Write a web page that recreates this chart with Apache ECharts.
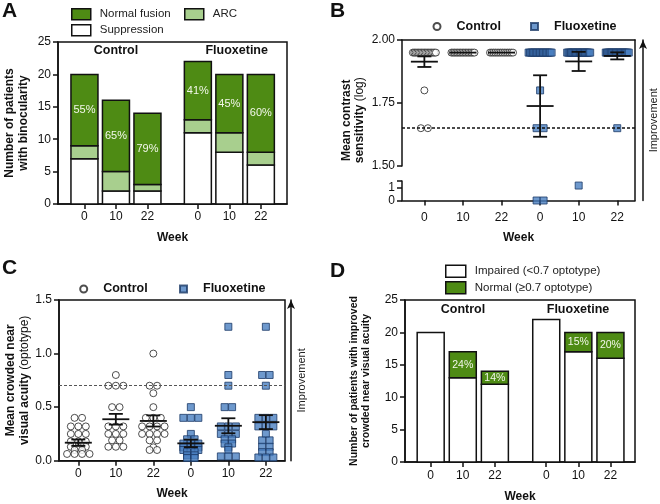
<!DOCTYPE html>
<html><head><meta charset="utf-8">
<script src="https://cdn.jsdelivr.net/npm/echarts@6/dist/echarts.min.js"></script>
<style>html,body{margin:0;padding:0;background:#fff}#c{width:660px;height:504px}</style>
</head><body><div id="c"></div>
<script>
// ---------------- data ----------------
const weeks = ['0', '10', '22'];
const groups = ['Control', 'Fluoxetine'];

// Panel A: binocularity (Control 0,10,22 | Fluoxetine 0,10,22)
const aSuppression = [7, 2, 2, 11, 8, 6];
const aARC = [2, 3, 1, 2, 3, 2];
const aNormal = [11, 11, 11, 9, 9, 12];
const aPct = ['55%', '65%', '79%', '41%', '45%', '60%'];

// Panel B: contrast sensitivity (log), one value per patient
const bControl = [
  [1.95,1.95,1.95,1.95,1.95,1.95,1.95,1.95,1.95,1.95,1.95,1.95,1.95,1.95,1.95,1.95,1.95,1.80,1.65,1.65],
  [1.95,1.95,1.95,1.95,1.95,1.95,1.95,1.95,1.95,1.95,1.95,1.95,1.95,1.95,1.95,1.95],
  [1.95,1.95,1.95,1.95,1.95,1.95,1.95,1.95,1.95,1.95,1.95,1.95,1.95,1.95]
];
const bFluox = [
  [1.95,1.95,1.95,1.95,1.95,1.95,1.95,1.95,1.95,1.95,1.95,1.95,1.95,1.95,1.95,1.95,1.95,1.80,1.65,1.65,0,0],
  [1.95,1.95,1.95,1.95,1.95,1.95,1.95,1.95,1.95,1.95,1.95,1.95,1.95,1.95,1.95,1.95,1.95,1.95,1.95,1.15],
  [1.95,1.95,1.95,1.95,1.95,1.95,1.95,1.95,1.95,1.95,1.95,1.95,1.95,1.95,1.95,1.95,1.95,1.95,1.95,1.65]
];
const bMean = [1.914, 1.95, 1.95, 1.738, 1.915, 1.937];
const bSem = [0.021, 0, 0, 0.122, 0.038, 0.014];
const bThreshold = 1.65;

// Panel C: crowded near visual acuity (optotype)
const cControl = [
  [0.40,0.40,0.32,0.32,0.32,0.25,0.25,0.25,0.18,0.18,0.18,0.13,0.13,0.13,0.10,0.10,0.063,0.063,0.063,0.063],
  [0.80,0.70,0.70,0.70,0.50,0.50,0.32,0.32,0.32,0.25,0.25,0.25,0.19,0.19,0.13,0.13,0.13],
  [1.00,0.70,0.70,0.63,0.50,0.40,0.40,0.40,0.32,0.32,0.32,0.32,0.25,0.25,0.25,0.25,0.19,0.19,0.125,0.10,0.10]
];
const cFluox = [
  [0.50,0.40,0.40,0.40,0.25,0.20,0.20,0.16,0.16,0.16,0.125,0.125,0.125,0.10,0.10,0.10,0.08,0.08,0.05,0.05,0.025,0.025],
  [1.25,0.80,0.70,0.50,0.50,0.32,0.32,0.32,0.25,0.25,0.25,0.20,0.20,0.16,0.16,0.125,0.10,0.04,0.04,0.04],
  [1.25,0.80,0.80,0.70,0.40,0.40,0.40,0.32,0.32,0.32,0.25,0.19,0.19,0.13,0.13,0.08,0.08,0.03,0.03,0.03]
];
const cMean = [0.168, 0.387, 0.371, 0.162, 0.326, 0.36];
const cSem = [0.03, 0.05, 0.052, 0.035, 0.07, 0.065];
const cThreshold = 0.7;

// Panel D: crowded near visual acuity categories
const dImpaired = [20, 13, 12, 22, 17, 16];
const dNormal = [0, 4, 2, 0, 3, 4];
const dPct = ['', '24%', '14%', '', '15%', '20%'];

// ---------------- layout & style ----------------
const FONT = "'Liberation Sans', Arial, Helvetica, sans-serif";
const INK = '#111';
const GREEN = '#4e8b14';
const LIGHT = '#a8cf8e';
const BLUE = '#4a7fc1';
const BLUE_EDGE = '#1c3a66';
const LABEL_INK = '#f2f7ea';

const posAD = [0, 1, 2, 3, 4, 5].map(i => (i % 3) + (i >= 3 ? 3.6 : 0));
const posBC = [0, 1, 2, 3, 4, 5];

const G = {
  A:  {left: 58,  top: 42,  width: 229, height: 162},
  Bu: {left: 402, top: 40,  width: 233, height: 126},
  Bl: {left: 402, top: 181, width: 233, height: 19.5},
  Bf: {left: 402, top: 40,  width: 233, height: 160.5},
  C:  {left: 59,  top: 300, width: 226, height: 160.7},
  D:  {left: 405, top: 300, width: 230, height: 164}
};
const XR = {A: [-0.84, 6.43], B: [-0.58, 5.46], C: [-0.515, 5.51], D: [-0.80, 6.365]};
const unitPx = (g, r) => g.width / (r[1] - r[0]);
const BAR_W = 27;

function labelFor(pos) {
  return v => {
    const i = pos.findIndex(p => Math.abs(p - v) < 1e-6);
    return i < 0 ? '' : weeks[i % 3];
  };
}

// stacked segments [x, base, top] built from the value arrays (bottom -> top)
function stackSegments(pos, layers) {
  const cum = pos.map(() => 0);
  return layers.map(vals => vals.map((v, i) => {
    const b = cum[i]; cum[i] += v; return [pos[i], b, b + v];
  }));
}

function barRender(fill, labels, fontSize) {
  return (params, api) => {
    const x = api.value(0), b = api.value(1), t = api.value(2);
    if (t - b <= 0) return null;
    const p0 = api.coord([x, b]), p1 = api.coord([x, t]);
    const ch = [{type: 'rect',
      shape: {x: p0[0] - BAR_W / 2, y: p1[1], width: BAR_W, height: p0[1] - p1[1]},
      style: {fill, stroke: INK, lineWidth: 1.5}}];
    const txt = labels ? labels[params.dataIndex] : '';
    if (txt) {
      ch.push({type: 'text', z2: 10, style: {text: txt, x: p0[0], y: (p0[1] + p1[1]) / 2,
        align: 'center', verticalAlign: 'middle', fill: LABEL_INK, font: `${fontSize}px ${FONT}`}});
    }
    return {type: 'group', children: ch};
  };
}

function swarm(sets, pos, upx, sizePx, maxPx, filter) {
  const out = [];
  sets.forEach((vals, gi) => {
    const rows = new Map();
    vals.filter(filter).forEach(v => {
      const k = v.toFixed(4);
      if (!rows.has(k)) rows.set(k, []);
      rows.get(k).push(v);
    });
    rows.forEach(row => {
      const n = row.length;
      const sp = n > 1 ? Math.min(sizePx, maxPx / (n - 1)) : 0;
      row.forEach((v, k) => out.push([pos[gi] + (k - (n - 1) / 2) * sp / upx, v]));
    });
  });
  return out;
}

const lineStyle = {color: INK, width: 1.5};
function xWeek(gridIndex, pos, range, margin, nameGap) {
  return {
    type: 'value', gridIndex, min: range[0], max: range[1],
    axisLine: {show: true, onZero: false, lineStyle},
    axisTick: {show: true, customValues: pos, length: 5, lineStyle},
    axisLabel: {show: true, customValues: pos, formatter: labelFor(pos), color: INK, fontSize: 12, fontFamily: FONT, margin},
    splitLine: {show: false},
    name: 'Week', nameLocation: 'middle', nameGap,
    nameTextStyle: {fontWeight: 'bold', fontSize: 12, color: INK, fontFamily: FONT}
  };
}
function yVal(gridIndex, min, max, interval, fmt, name, nameGap, nameSize, extra) {
  return Object.assign({
    type: 'value', gridIndex, min, max, interval,
    axisLine: {show: true, onZero: false, lineStyle},
    axisTick: {show: true, length: 5, lineStyle},
    axisLabel: {color: INK, fontSize: 12, fontFamily: FONT, margin: 7, formatter: fmt},
    splitLine: {show: false},
    name, nameLocation: 'middle', nameGap,
    nameTextStyle: {fontWeight: 'bold', fontSize: nameSize, color: INK, fontFamily: FONT, lineHeight: nameSize + 1.5,
      rich: {n: {fontWeight: 'normal', fontSize: nameSize, fontFamily: FONT, color: INK}}}
  }, extra || {});
}
function arrowAxis(gridIndex, offset, nameGap) {
  return {
    type: 'value', gridIndex, position: 'right', offset, min: 0, max: 1,
    axisLine: {show: true, onZero: false, symbol: ['none', 'arrow'], symbolSize: [6, 9], lineStyle},
    axisTick: {show: false}, axisLabel: {show: false}, splitLine: {show: false},
    name: 'Improvement', nameLocation: 'middle', nameGap,
    nameTextStyle: {fontSize: 11, color: '#222', fontFamily: FONT}
  };
}

function errRender(params, api) {
  const x = api.value(0), m = api.value(1), s = api.value(2);
  const pm = api.coord([x, m]), ph = api.coord([x, m + s]), pl = api.coord([x, m - s]);
  const hw = 13.5, cw = 7;
  const style = {stroke: INK, lineWidth: 1.8, fill: null};
  const ch = [{type: 'line', shape: {x1: pm[0] - hw, y1: pm[1], x2: pm[0] + hw, y2: pm[1]}, style}];
  if (s > 0) {
    ch.push({type: 'line', shape: {x1: pm[0], y1: ph[1], x2: pm[0], y2: pl[1]}, style});
    ch.push({type: 'line', shape: {x1: pm[0] - cw, y1: ph[1], x2: pm[0] + cw, y2: ph[1]}, style});
    ch.push({type: 'line', shape: {x1: pm[0] - cw, y1: pl[1], x2: pm[0] + cw, y2: pl[1]}, style});
  }
  return {type: 'group', children: ch};
}

const ctrlStyle = {color: '#fff', borderColor: '#222', borderWidth: 1};
const fluoStyle = {color: BLUE, borderColor: BLUE_EDGE, borderWidth: 1};

const upB = unitPx(G.Bu, XR.B), upC = unitPx(G.C, XR.C);
const hi = v => v >= 1.5, lo = v => v < 1.5, all = () => true;

const segA = stackSegments(posAD, [aSuppression, aARC, aNormal]);
const segD = stackSegments(posAD, [dImpaired, dNormal]);

function barSeries(name, xi, yi, data, fill, labels, fs) {
  return {name, type: 'custom', xAxisIndex: xi, yAxisIndex: yi, clip: false,
    itemStyle: {color: fill, borderColor: INK, borderWidth: 1.5},
    renderItem: barRender(fill, labels, fs), encode: {x: 0, y: [1, 2]}, data};
}

const frameAxis = {axisLine: {show: true, onZero: false, lineStyle},
  axisTick: {show: false}, axisLabel: {show: false}, splitLine: {show: false}};

const option = {
  animation: false,
  textStyle: {fontFamily: FONT},
  grid: [
    Object.assign({show: true, borderColor: INK, borderWidth: 1.5}, G.A),
    Object.assign({show: false}, G.Bu),
    Object.assign({show: false}, G.Bl),
    Object.assign({show: false}, G.Bf),
    Object.assign({show: true, borderColor: INK, borderWidth: 1.5}, G.C),
    Object.assign({show: true, borderColor: INK, borderWidth: 1.5}, G.D)
  ],
  xAxis: [
    xWeek(0, posAD, XR.A, 7, 28),
    {type: 'value', gridIndex: 1, min: XR.B[0], max: XR.B[1], show: false},
    xWeek(2, posBC, XR.B, 11, 31),
    Object.assign({type: 'value', gridIndex: 3, min: 0, max: 1, position: 'top'}, frameAxis),
    xWeek(4, posBC, XR.C, 7, 26.5),
    xWeek(5, posAD, XR.D, 8, 29)
  ],
  yAxis: [
    yVal(0, 0, 25, 5, null, 'Number of patients\nwith binocularity', 28, 12),
    yVal(1, 1.5, 2.0, 0.25, v => v.toFixed(2), '', 0, 12),
    yVal(2, 0, 1.5, 0.5, v => String(v), '', 0, 12, {
      axisTick: {show: true, length: 5, lineStyle, customValues: [0, 1, 1.5]},
      axisLabel: {color: INK, fontSize: 12, fontFamily: FONT, margin: 7, customValues: [0, 1], formatter: v => String(v)}
    }),
    yVal(3, 0, 1, 1, null, 'Mean contrast\nsensitivity {n|(log)}', 35.5, 12, {
      axisLine: {show: false}, axisTick: {show: false}, axisLabel: {show: false}
    }),
    Object.assign({type: 'value', gridIndex: 3, position: 'right', min: 0, max: 1}, frameAxis),
    arrowAxis(3, 8, 5),
    yVal(4, 0, 1.5, 0.5, v => v.toFixed(1), 'Mean crowded near\nvisual acuity {n|(optotype)}', 28, 12),
    arrowAxis(4, 6, 5),
    yVal(5, 0, 25, 5, null, 'Number of patients with improved\ncrowded near visual acuity', 32.5, 10.5)
  ],
  legend: [
    {data: ['Normal fusion'], left: 71, top: 8},
    {data: ['ARC'], left: 184, top: 8},
    {data: ['Suppression'], left: 71, top: 24},
    {data: ['Impaired (<0.7 optotype)'], left: 445, top: 264.5, itemWidth: 20, itemHeight: 12},
    {data: ['Normal (≥0.7 optotype)'], left: 445, top: 281, itemWidth: 20, itemHeight: 12}
  ].map(l => Object.assign({
    padding: 0, selectedMode: false, icon: 'rect', itemWidth: 19, itemHeight: 11,
    itemStyle: {borderColor: INK, borderWidth: 1.5},
    textStyle: {fontSize: 11.5, color: '#222', fontFamily: FONT, padding: [0, 0, 0, 4]}
  }, l)).concat([
    {data: ['Control'], left: 432.5, top: 20},
    {data: ['Fluoxetine'], left: 530, top: 20},
    {data: ['Control'], left: 79.2, top: 282.5},
    {data: ['Fluoxetine'], left: 179, top: 282.5}
  ].map(l => Object.assign({
    padding: 0, selectedMode: false, itemWidth: 7, itemHeight: 7,
    textStyle: {fontSize: 12.5, fontWeight: 'bold', color: INK, fontFamily: FONT, padding: [0, 0, 0, 11]}
  }, l))),
  series: [
    // Panel A
    barSeries('Suppression', 0, 0, segA[0], '#fff'),
    barSeries('ARC', 0, 0, segA[1], LIGHT),
    barSeries('Normal fusion', 0, 0, segA[2], GREEN, aPct, 11),
    // Panel B upper
    {name: 'Control', type: 'scatter', xAxisIndex: 1, yAxisIndex: 1, symbol: 'circle', symbolSize: 7, itemStyle: ctrlStyle,
      data: swarm(bControl, posBC.slice(0, 3), upB, 7, 23, hi),
      markLine: {silent: true, symbol: 'none', label: {show: false},
        lineStyle: {color: INK, width: 1.5, type: [3, 2]}, data: [{yAxis: bThreshold}]}},
    {name: 'Fluoxetine', type: 'scatter', xAxisIndex: 1, yAxisIndex: 1, symbol: 'rect', symbolSize: 7, itemStyle: fluoStyle,
      data: swarm(bFluox, posBC.slice(3), upB, 7, 23, hi)},
    {name: 'meanB', type: 'custom', xAxisIndex: 1, yAxisIndex: 1, renderItem: errRender, z: 5, clip: false,
      encode: {x: 0, y: 1}, data: posBC.map((p, i) => [p, bMean[i], bSem[i]])},
    // Panel B lower
    {name: 'Fluoxetine', type: 'scatter', xAxisIndex: 2, yAxisIndex: 2, symbol: 'rect', symbolSize: 7, itemStyle: fluoStyle,
      clip: false, data: swarm(bFluox, posBC.slice(3), upB, 7, 23, lo)},
    // Panel C
    {name: 'Control', type: 'scatter', xAxisIndex: 4, yAxisIndex: 6, symbol: 'circle', symbolSize: 7, itemStyle: ctrlStyle,
      data: swarm(cControl, posBC.slice(0, 3), upC, 7.5, 24, all),
      markLine: {silent: true, symbol: 'none', label: {show: false},
        lineStyle: {color: '#555', width: 1, type: [3, 2]}, data: [{yAxis: cThreshold}]}},
    {name: 'Fluoxetine', type: 'scatter', xAxisIndex: 4, yAxisIndex: 6, symbol: 'rect', symbolSize: 7, itemStyle: fluoStyle,
      data: swarm(cFluox, posBC.slice(3), upC, 7.5, 24, all)},
    {name: 'meanC', type: 'custom', xAxisIndex: 4, yAxisIndex: 6, renderItem: errRender, z: 5, clip: false,
      encode: {x: 0, y: 1}, data: posBC.map((p, i) => [p, cMean[i], cSem[i]])},
    // Panel D
    barSeries('Impaired (<0.7 optotype)', 5, 8, segD[0], '#fff'),
    barSeries('Normal (≥0.7 optotype)', 5, 8, segD[1], GREEN, dPct, 10.5)
  ],
  graphic: [
    {type: 'text', left: 2, top: 1, style: {text: 'A', font: `bold 21px ${FONT}`, fill: INK}},
    {type: 'text', left: 330, top: 1, style: {text: 'B', font: `bold 21px ${FONT}`, fill: INK}},
    {type: 'text', left: 2, top: 258, style: {text: 'C', font: `bold 21px ${FONT}`, fill: INK}},
    {type: 'text', left: 330, top: 261, style: {text: 'D', font: `bold 21px ${FONT}`, fill: INK}},
    {type: 'text', x: 116, y: 51, style: {text: groups[0], align: 'center', verticalAlign: 'middle', font: `bold 12.5px ${FONT}`, fill: INK}},
    {type: 'text', x: 236.7, y: 51, style: {text: groups[1], align: 'center', verticalAlign: 'middle', font: `bold 12.5px ${FONT}`, fill: INK}},
    {type: 'text', x: 463, y: 309.3, style: {text: groups[0], align: 'center', verticalAlign: 'middle', font: `bold 12.5px ${FONT}`, fill: INK}},
    {type: 'text', x: 578, y: 309.3, style: {text: groups[1], align: 'center', verticalAlign: 'middle', font: `bold 12.5px ${FONT}`, fill: INK}}
  ]
};

const chart = echarts.init(document.getElementById('c'), null, {renderer: 'canvas'});
chart.setOption(option);
</script>
</body></html>
